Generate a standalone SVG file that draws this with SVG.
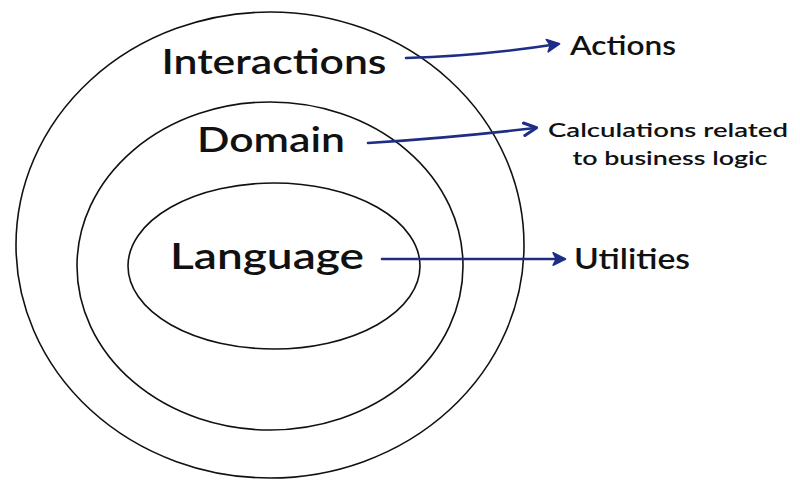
<svg xmlns="http://www.w3.org/2000/svg" width="800" height="488" viewBox="0 0 800 488">
<defs>
<style>
.ring{fill:none;stroke:#111;stroke-width:1.6}
.lbl{font-family:"Lato","Liberation Sans",sans-serif;fill:#111;font-weight:600}
.side{font-family:"Lato","Liberation Sans",sans-serif;fill:#111;font-weight:600}
.conn{fill:none;stroke:#1e2d86;stroke-width:2.6;stroke-linecap:round}
</style>
<marker id="ah" viewBox="0 0 10 10" refX="8" refY="5" markerWidth="6" markerHeight="6" orient="auto" markerUnits="strokeWidth">
<path d="M1,1 L9,5 L1,9" fill="none" stroke="#1e2d86" stroke-width="2" stroke-linejoin="round" stroke-linecap="round"/>
</marker>
<marker id="ahf" viewBox="0 0 10 10" refX="8" refY="5" markerWidth="6" markerHeight="6" orient="auto" markerUnits="strokeWidth">
<path d="M1,1 L9,5 L1,9 L3,5 Z" fill="#1e2d86" stroke="#1e2d86" stroke-width="1" stroke-linejoin="round"/>
</marker>
</defs>
<rect width="800" height="488" fill="#fff"/>
<g id="interactions">
<ellipse class="ring" cx="270" cy="245" rx="254" ry="233"/>
<text class="lbl" x="274" y="74" font-size="35" text-anchor="middle" textLength="225" lengthAdjust="spacingAndGlyphs">Interactions</text>
</g>
<g id="domain">
<ellipse class="ring" cx="270" cy="266" rx="193" ry="164" stroke-width="1.2"/>
<text class="lbl" x="271" y="152" font-size="35" text-anchor="middle" textLength="148" lengthAdjust="spacingAndGlyphs">Domain</text>
</g>
<g id="language">
<ellipse class="ring" cx="274" cy="266" rx="146" ry="83"/>
<text class="lbl" x="267" y="269" font-size="37" text-anchor="middle" textLength="194" lengthAdjust="spacingAndGlyphs">Language</text>
</g>
<g id="actions">
<text class="side" x="570" y="55" font-size="26" textLength="106" lengthAdjust="spacingAndGlyphs">Actions</text>
</g>
<g id="calculations">
<text class="side" x="668" y="137" font-size="19" text-anchor="middle" textLength="240" lengthAdjust="spacingAndGlyphs">Calculations related</text>
<text class="side" x="670" y="165" font-size="19" text-anchor="middle" textLength="195" lengthAdjust="spacingAndGlyphs">to business logic</text>
</g>
<g id="utilities">
<text class="side" x="574" y="269" font-size="28" textLength="116" lengthAdjust="spacingAndGlyphs">Utilities</text>
</g>
<g id="connectors">
<path class="conn" d="M406,58 Q480,56 558,44" marker-end="url(#ahf)"/>
<path class="conn" d="M368,143 Q450,138 535,128" marker-end="url(#ah)"/>
<path class="conn" d="M382,259 L564,259" marker-end="url(#ahf)"/>
</g>
</svg>
